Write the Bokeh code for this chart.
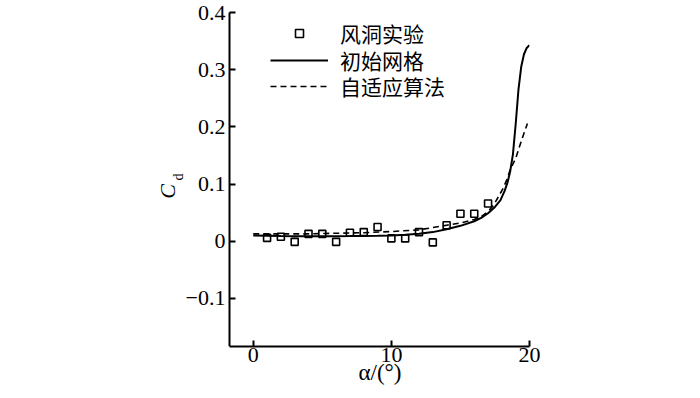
import math
from bokeh.plotting import figure
from bokeh.models import (Legend, LegendItem, FixedTicker, CustomJSTickFormatter,
                          Label, Range1d, Title)
from bokeh.embed import file_html
from bokeh.resources import INLINE

# ---- data ----
exp_alpha = [1, 2, 3, 4, 5, 6, 7, 8, 9, 10, 11, 12, 13, 14, 15, 16, 17]
exp_cd = [0.006, 0.008, -0.001, 0.013, 0.013, -0.001, 0.015, 0.016, 0.025,
          0.005, 0.005, 0.016, -0.002, 0.028, 0.048, 0.048, 0.066]

init_alpha = [0, 1, 2, 3, 4, 5, 6, 7, 8, 9, 10, 11, 12, 13, 14, 15, 16, 16.5,
              17, 17.5, 17.9, 18.2, 18.4, 18.6, 18.8, 19.0, 19.2, 19.4, 19.6,
              19.8, 20.0]
init_cd = [0.010, 0.0095, 0.009, 0.0088, 0.0087, 0.0087, 0.0088, 0.009,
           0.0093, 0.0097, 0.0103, 0.0115, 0.013, 0.016, 0.021, 0.027, 0.035,
           0.041, 0.049, 0.060, 0.072, 0.088, 0.102, 0.122, 0.152, 0.205,
           0.265, 0.305, 0.327, 0.338, 0.343]

adapt_alpha = [0, 2, 4, 6, 8, 10, 12, 13, 14, 15, 16, 16.5, 17, 17.4, 17.8,
               18.1, 18.4, 18.6, 19.0, 19.4, 19.85]
adapt_cd = [0.013, 0.013, 0.013, 0.014, 0.015, 0.017, 0.020, 0.024, 0.028,
            0.032, 0.038, 0.043, 0.052, 0.063, 0.080, 0.093, 0.110, 0.125,
            0.145, 0.175, 0.206]

x_ticks = [0, 10, 20]
y_ticks = [-0.1, 0, 0.1, 0.2, 0.3, 0.4]
legend_labels = ["风洞实验", "初始网格", "自适应算法"]
x_title = "α/(°)"
y_title = ["C", "d"]

# axis extents
XA0, XA1 = -1.72, 20.0      # drawn x axis
YA0, YA1 = -0.184, 0.4      # drawn y axis

# canvas geometry (px)
W, H = 684, 390
AX_L, AX_R, AX_T, AX_B = 229, 529, 12, 346   # where the axes sit
FR_L, FR_T = 60, 0                            # frame extends beyond axes
px_x = (XA1 - XA0) / (AX_R - AX_L)
px_y = (YA1 - YA0) / (AX_B - AX_T)
X0 = XA0 - (AX_L - FR_L) * px_x
Y1 = YA1 + (AX_T - FR_T) * px_y


def dx(px):
    return X0 + (px - FR_L) * px_x


def dy(py):
    return Y1 - (py - FR_T) * px_y


p = figure(width=W, height=H, output_backend="svg", toolbar_location=None,
           x_range=Range1d(X0, XA1), y_range=Range1d(YA0, Y1),
           min_border_left=FR_L, min_border_right=W - AX_R,
           min_border_top=FR_T, min_border_bottom=H - AX_B)
p.outline_line_color = None
p.grid.visible = False

r_exp = p.scatter(exp_alpha, exp_cd, marker="square", size=7,
                  fill_color="white", line_color="black", line_width=1.6)
r_init = p.line(init_alpha, init_cd, line_color="black", line_width=2)
r_adapt = p.line(adapt_alpha, adapt_cd, line_color="black", line_width=1.6,
                 line_dash="6 4")

serif = "Liberation Serif"
xa, ya = p.xaxis[0], p.yaxis[0]
for ax in (xa, ya):
    ax.axis_line_width = 2
    ax.axis_line_color = "black"
    ax.major_tick_line_width = 2
    ax.major_tick_in = 6
    ax.major_tick_out = 0
    ax.minor_tick_line_color = None
    ax.major_label_text_font = serif
    ax.major_label_text_font_size = "22px"
    ax.major_label_text_color = "black"

xa.ticker = FixedTicker(ticks=x_ticks)
xa.bounds = (XA0, XA1)
xa.major_label_standoff = 1
ya.ticker = FixedTicker(ticks=y_ticks)
ya.fixed_location = XA0
ya.bounds = (YA0, YA1)
ya.major_label_standoff = 4
ya.formatter = CustomJSTickFormatter(code="""
    if (Math.abs(tick) < 1e-9) return '0';
    var s = Math.abs(tick).toFixed(1);
    return (tick < 0 ? '\u2212' : '') + s;
""")

# x title below the axis
p.add_layout(Title(text=x_title, text_font=serif, text_font_size="23px",
                   text_font_style="normal", align="left", offset=358 - FR_L,
                   vertical_align="top", standoff=-10, text_color="black"),
             "below")

# y title C_d (inside the extended frame)
p.add_layout(Label(x=dx(167), y=dy(191), text=y_title[0], text_font=serif,
                   text_font_style="italic", text_font_size="22px",
                   text_color="black", angle=math.pi / 2, text_align="center",
                   text_baseline="middle"))
p.add_layout(Label(x=dx(178), y=dy(176.5), text=y_title[1], text_font=serif,
                   text_font_size="14px", text_color="black",
                   angle=math.pi / 2, text_align="center",
                   text_baseline="middle"))

# one legend per row, so that the row pitch matches the reference
row_centres = [34, 61, 87]
for lab, rend, c in zip(legend_labels, [r_exp, r_init, r_adapt], row_centres):
    lg = Legend(items=[LegendItem(label=lab, renderers=[rend])],
                location=(270 - FR_L, AX_B - c - 14))
    lg.label_text_font = "Noto Sans CJK SC"
    lg.label_text_font_size = "21px"
    lg.label_text_color = "black"
    lg.glyph_width = 58
    lg.glyph_height = 20
    lg.label_height = 20
    lg.label_standoff = 12
    lg.padding = 0
    lg.margin = 0
    lg.border_line_color = None
    lg.background_fill_alpha = 0
    p.add_layout(lg, "center")

open("out.html", "w", encoding="utf-8").write(file_html(p, INLINE))
